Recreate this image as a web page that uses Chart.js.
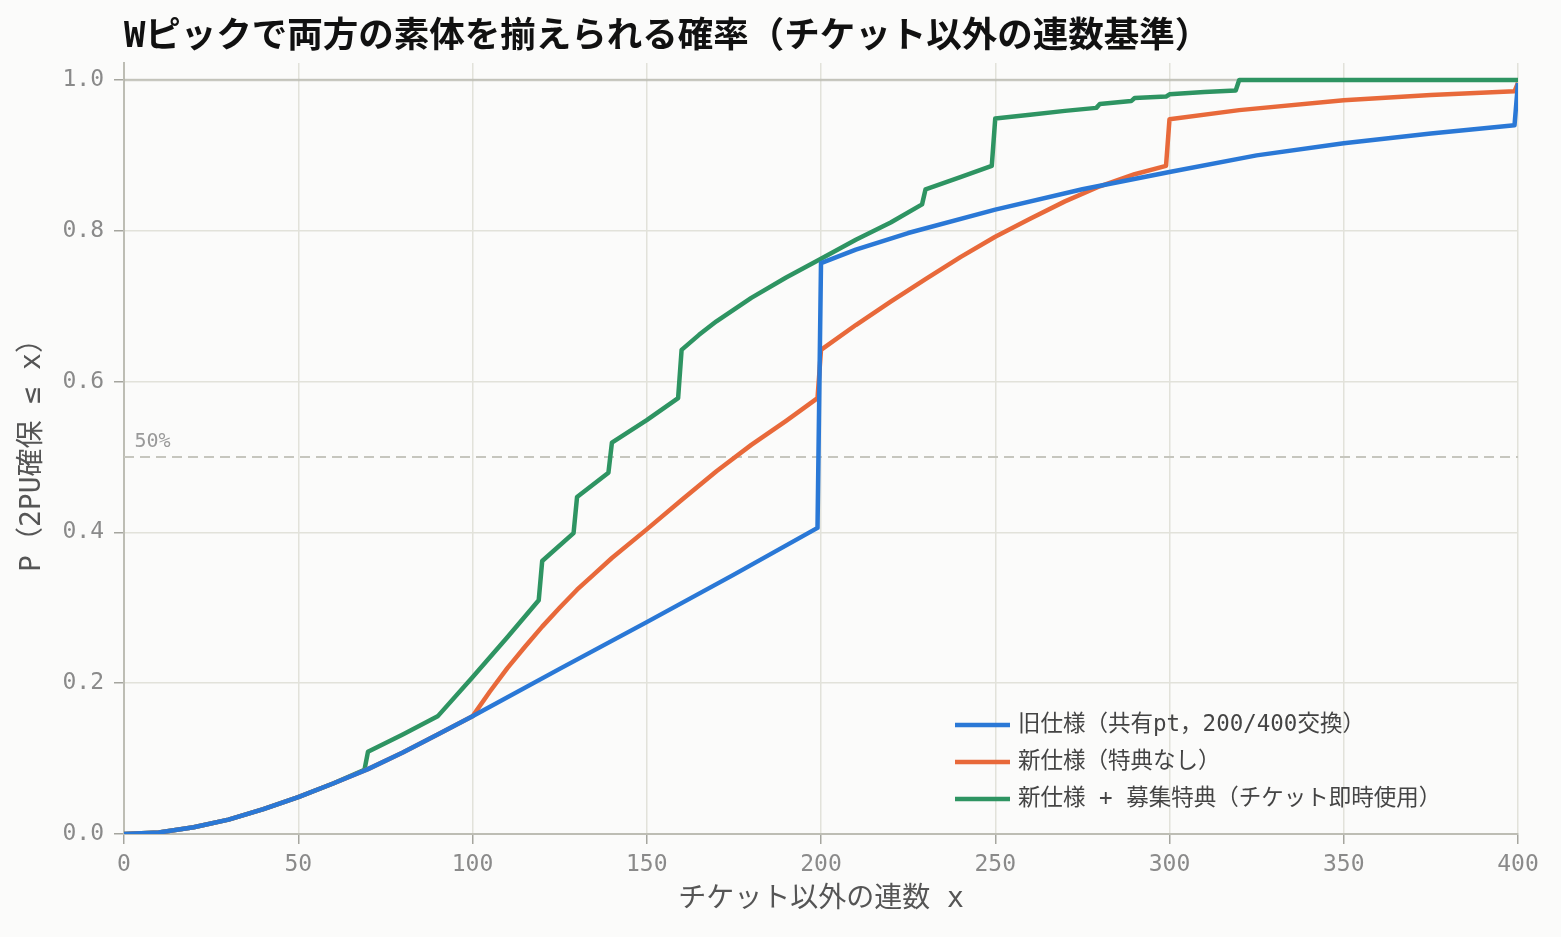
<!DOCTYPE html>
<html>
<head>
<meta charset="utf-8">
<script src="https://cdn.jsdelivr.net/npm/chart.js@4.4.1/dist/chart.umd.min.js"></script>
<style>
  html, body { margin: 0; padding: 0; background: #fbfbfa; }
  #wrap { width: 1561px; height: 937px; }
</style>
</head>
<body>
<div id="wrap"><canvas id="myChart"></canvas></div>
<script>
const MONO = "'DejaVu Sans Mono', 'Noto Sans CJK JP', monospace";
Chart.defaults.font.family = MONO;

const chartTitle = 'Wピックで両方の素体を揃えられる確率（チケット以外の連数基準）';
const xTitle = 'チケット以外の連数 x';
const yTitle = 'P（2PU確保 ≤ x）';
const seriesLabels = [
    '旧仕様（共有pt，200/400交換）',
    '新仕様（特典なし）',
    '新仕様 + 募集特典（チケット即時使用）'
];
const xTicks = [0, 50, 100, 150, 200, 250, 300, 350, 400];
const yTicks = [0.0, 0.2, 0.4, 0.6, 0.8, 1.0];

// 旧仕様
const oldX = [0, 10, 20, 30, 40, 50, 60, 70, 80, 90, 100, 125, 150, 175, 199, 200, 210, 225, 250, 275, 300, 325, 350, 375, 399, 400];
const oldY = [0, 0.002, 0.009, 0.019, 0.033, 0.049, 0.067, 0.086, 0.108, 0.132, 0.156, 0.219, 0.281, 0.344, 0.406, 0.757, 0.775, 0.797, 0.828, 0.855, 0.878, 0.900, 0.916, 0.929, 0.940, 0.996];

// 新仕様
const newX = [0, 10, 20, 30, 40, 50, 60, 70, 80, 90, 100, 105, 110, 115, 120, 125, 130, 135, 140, 150, 160, 170, 180, 190, 199, 200, 210, 220, 230, 240, 250, 260, 270, 280, 290, 299, 300, 320, 350, 375, 399, 400];
const newY = [0, 0.002, 0.009, 0.019, 0.033, 0.049, 0.067, 0.086, 0.108, 0.132, 0.156, 0.189, 0.220, 0.248, 0.275, 0.300, 0.324, 0.345, 0.366, 0.404, 0.443, 0.481, 0.516, 0.548, 0.578, 0.642, 0.675, 0.706, 0.736, 0.765, 0.792, 0.816, 0.839, 0.859, 0.875, 0.886, 0.948, 0.960, 0.973, 0.980, 0.985, 0.996];

// 新仕様 + 募集特典
const bonusX = [0, 10, 20, 30, 40, 50, 60, 69, 70, 80, 90, 100, 110, 119, 120, 129, 130, 139, 140, 150, 159, 160, 165, 170, 180, 190, 200, 210, 220, 229, 230, 240, 249, 250, 260, 270, 279, 280, 289, 290, 299, 300, 310, 319, 320, 400];
const bonusY = [0, 0.002, 0.009, 0.019, 0.033, 0.049, 0.067, 0.085, 0.109, 0.132, 0.156, 0.208, 0.261, 0.310, 0.362, 0.399, 0.447, 0.479, 0.519, 0.549, 0.578, 0.642, 0.662, 0.680, 0.711, 0.738, 0.763, 0.788, 0.811, 0.835, 0.855, 0.871, 0.886, 0.949, 0.954, 0.959, 0.963, 0.968, 0.972, 0.976, 0.978, 0.981, 0.984, 0.986, 1.0, 1.0];

const refX = [0, 400];
const halfY = [0.5, 0.5];
const fullY = [1.0, 1.0];

const colors = ['#2a78d6', '#e8693a', '#2e9462'];

function toPoints(xs, ys) {
    let pts = [];
    for (let i = 0; i < xs.length; i++) {
        pts.push({x: xs[i], y: ys[i]});
    }
    return pts;
}

function curve(label, xs, ys, color) {
    return {
        label: label,
        data: toPoints(xs, ys),
        borderColor: color,
        borderWidth: 4.5,
        borderJoinStyle: 'round',
        pointRadius: 0,
        tension: 0,
        fill: false,
    };
}

// タイトル・凡例・50%ラベル
const decorPlugin = {
    id: 'decor',
    afterDraw(chart) {
        const ctx = chart.ctx;
        const xs = chart.scales.x;
        const ys = chart.scales.y;
        ctx.save();
        ctx.fillStyle = '#111';
        ctx.font = "bold 35.5px " + MONO;
        ctx.textBaseline = 'middle';
        ctx.textAlign = 'left';
        ctx.fillText(chartTitle, 124, 38);

        ctx.fillStyle = '#999';
        ctx.font = "20px " + MONO;
        ctx.textBaseline = 'alphabetic';
        ctx.fillText('50%', xs.getPixelForValue(3), ys.getPixelForValue(0.5) - 10);

        ctx.font = "22.5px " + MONO;
        ctx.textBaseline = 'middle';
        for (let i = 0; i < 3; i++) {
            const y = 725 + i * 37;
            ctx.strokeStyle = chart.data.datasets[i].borderColor;
            ctx.lineWidth = 4.5;
            ctx.beginPath();
            ctx.moveTo(955, y);
            ctx.lineTo(1010, y);
            ctx.stroke();
            ctx.fillStyle = '#444';
            ctx.fillText(chart.data.datasets[i].label, 1018, y);
        }
        ctx.restore();
    }
};

const ctx = document.getElementById('myChart');
new Chart(ctx, {
    type: 'line',
    data: {
        datasets: [
            curve(seriesLabels[0], oldX, oldY, colors[0]),
            curve(seriesLabels[1], newX, newY, colors[1]),
            curve(seriesLabels[2], bonusX, bonusY, colors[2]),
            {
                label: '50%',
                data: toPoints(refX, halfY),
                borderColor: '#c6c6be',
                borderWidth: 2,
                borderDash: [10, 6],
                pointRadius: 0,
            },
            {
                label: '1.0',
                data: toPoints(refX, fullY),
                borderColor: 'rgba(175,175,165,0.6)',
                borderWidth: 2.5,
                pointRadius: 0,
            }
        ]
    },
    options: {
        responsive: true,
        maintainAspectRatio: false,
        animation: false,
        layout: {padding: {top: 63, right: 43, left: 0, bottom: 0}},
        plugins: {
            legend: {display: false},
            tooltip: {enabled: false},
        },
        scales: {
            x: {
                type: 'linear',
                min: 0,
                max: 400,
                afterFit: (s) => { s.height = 103; },
                afterBuildTicks: (s) => { s.ticks = xTicks.map(v => ({value: v})); },
                grid: {color: '#e2e2da', lineWidth: 1.5, tickLength: 10, tickColor: '#a5a59e'},
                border: {color: '#bdbdb4', width: 2},
                ticks: {color: '#8a8a8a', font: {size: 23}, padding: 7, maxRotation: 0,
                        callback: (v) => String(v)},
                title: {display: true, text: xTitle, color: '#555', font: {size: 28},
                        padding: {top: 0, bottom: 20}},
            },
            y: {
                type: 'linear',
                min: 0,
                max: 1.0225,
                afterFit: (s) => { s.width = 124; },
                afterBuildTicks: (s) => { s.ticks = yTicks.map(v => ({value: v})); },
                grid: {color: '#e2e2da', lineWidth: 1.5, tickLength: 10, tickColor: '#a5a59e'},
                border: {color: '#bdbdb4', width: 2},
                ticks: {color: '#8a8a8a', font: {size: 23}, padding: 10,
                        callback: (v) => v.toFixed(1)},
                title: {display: true, text: yTitle, color: '#555', font: {size: 28},
                        padding: {top: 16, bottom: 0}},
            }
        }
    },
    plugins: [decorPlugin]
});
</script>
</body>
</html>
